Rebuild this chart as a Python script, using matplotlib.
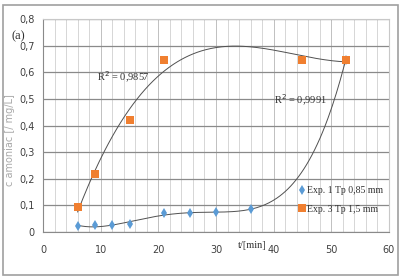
import numpy as np
import matplotlib
matplotlib.use("Agg")
import matplotlib.pyplot as plt
from matplotlib.patches import Rectangle

# data
exp1_t = [6, 9, 12, 15, 21, 25.5, 30, 36, 52.5]
exp1_c = [0.023, 0.027, 0.025, 0.032, 0.071, 0.070, 0.075, 0.086, 0.647]
exp3_t = [6, 9, 15, 21, 45, 52.5]
exp3_c = [0.095, 0.218, 0.420, 0.647, 0.647, 0.647]
xticks = [0, 10, 20, 30, 40, 50, 60]
yticks = [0, 0.1, 0.2, 0.3, 0.4, 0.5, 0.6, 0.7, 0.8]
r2_exp3 = "R$^2$ = 0,9857"
r2_exp1 = "R$^2$ = 0,9991"

serif = 'Liberation Serif'

fig = plt.figure(figsize=(4.06, 2.80), dpi=100)
fig.patches.append(Rectangle((3 / 406, 5 / 280), 395 / 406, 270 / 280,
                             transform=fig.transFigure, fill=False,
                             edgecolor='#a0a0a0', lw=1.2))
ax = fig.add_axes([0.106, 0.171, 0.852, 0.761])

# grid
ax.set_xticks(np.arange(0, 61, 2), minor=True)
ax.grid(True, which='minor', axis='x', color='#d0d0d0', lw=0.6)
ax.grid(True, which='major', axis='x', color='#c0c0c0', lw=0.7)
ax.grid(True, which='major', axis='y', color='#8a8a8a', lw=0.9)
ax.set_axisbelow(True)

# trend lines (polynomial fits)
xs = np.linspace(6, 52.5, 200)
p1 = np.polyfit(exp1_t, exp1_c, 4)
ax.plot(xs, np.polyval(p1, xs), color='#505050', lw=0.7)
p3 = np.polyfit(exp3_t, exp3_c, 3)
ax.plot(xs, np.polyval(p3, xs), color='#505050', lw=0.7)

ax.plot(exp1_t, exp1_c, 'd', color='#5b9bd5', ms=5, mew=0, label='Exp. 1 Tp 0,85 mm')
ax.plot(exp3_t, exp3_c, 's', color='#f07f30', ms=6, mew=0, label='Exp. 3 Tp 1,5 mm')

ax.set_xlim(0, 60)
ax.set_ylim(0, 0.8)
ax.set_xticks(xticks)
ax.set_yticks(yticks)
ax.set_yticklabels([f"{v:.1f}".replace('.', ',') if v else '0' for v in yticks])
ax.tick_params(axis='both', which='both', length=0, labelsize=7, colors='#404040', pad=6)
ax.tick_params(axis='x', pad=9)
for s in ['left', 'bottom']:
    ax.spines[s].set_color('#8a8a8a')
for s in ['top', 'right']:
    ax.spines[s].set_color('#c8c8c8')

ax.text(36.2, -0.051, "t/[min]", fontsize=7.5, family=serif, ha='center', va='center',
        color='#303030', transform=ax.transData, clip_on=False)
ax.set_ylabel("c amoniac [/ mg/L]", fontsize=7, color='#a8a8a8')
ax.yaxis.set_label_coords(-0.082, 0.43)

ax.text(13.9, 0.58, r2_exp3, fontsize=7.5, family=serif, ha='center', va='center', color='#303030')
ax.text(44.6, 0.495, r2_exp1, fontsize=7.5, family=serif, ha='center', va='center', color='#303030')
fig.text(18 / 406, 1 - 36 / 280, "(a)", fontsize=9, family=serif, ha='center', va='center', color='#303030')

leg = ax.legend(loc='lower right', bbox_to_anchor=(1.0, 0.06), frameon=False,
                prop={'family': serif, 'size': 7}, handlelength=0.6, handletextpad=0.2,
                labelspacing=0.95, borderaxespad=0.2)
for t in leg.get_texts():
    t.set_color('#303030')

fig.savefig('out.png', dpi=100)
